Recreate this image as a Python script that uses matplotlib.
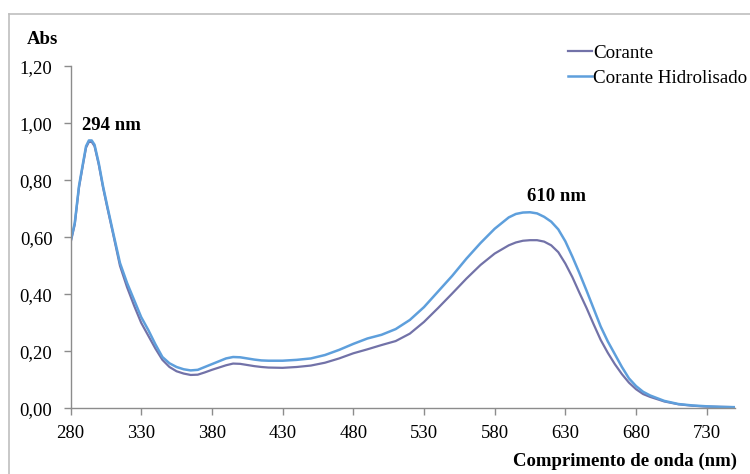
import matplotlib
matplotlib.use("Agg")
import matplotlib.pyplot as plt
from matplotlib.lines import Line2D

wavelength = [280, 283, 286, 289, 291, 293, 295, 297, 300, 303, 306, 310, 315, 320, 325, 330,
              335, 340, 345, 350, 355, 360, 365, 370, 375, 380, 385, 390, 395, 400, 405,
              410, 415, 420, 430, 440, 450, 460, 470, 480, 490, 500, 510, 520, 530, 540,
              550, 560, 570, 580, 590, 595, 600, 605, 610, 615, 620, 625, 630, 635, 640,
              645, 650, 655, 660, 665, 670, 675, 680, 685, 690, 700, 710, 720, 730, 740, 750]

corante = [0.58, 0.645, 0.775, 0.86, 0.915, 0.935, 0.935, 0.92, 0.855, 0.775, 0.705, 0.615, 0.5,
           0.425, 0.36, 0.30, 0.255, 0.21, 0.17, 0.145, 0.13, 0.122, 0.117, 0.118, 0.126,
           0.135, 0.143, 0.151, 0.157, 0.156, 0.152, 0.148, 0.145, 0.143, 0.142, 0.145,
           0.15, 0.16, 0.175, 0.193, 0.207, 0.222, 0.236, 0.262, 0.303, 0.352, 0.403, 0.455,
           0.503, 0.543, 0.572, 0.582, 0.588, 0.59, 0.59, 0.585, 0.572, 0.548, 0.508, 0.46,
           0.405, 0.352, 0.295, 0.24, 0.195, 0.155, 0.12, 0.09, 0.067, 0.05, 0.04, 0.024,
           0.014, 0.009, 0.006, 0.005, 0.004]

hidrolisado = [0.585, 0.65, 0.78, 0.865, 0.92, 0.94, 0.94, 0.925, 0.86, 0.78, 0.71, 0.62, 0.51,
               0.44, 0.38, 0.32, 0.275, 0.225, 0.18, 0.158, 0.145, 0.137, 0.133, 0.135,
               0.145, 0.155, 0.165, 0.175, 0.18, 0.179, 0.175, 0.171, 0.168, 0.167, 0.167,
               0.17, 0.175, 0.187, 0.205, 0.226, 0.245, 0.258, 0.278, 0.31, 0.355, 0.41,
               0.465, 0.525, 0.58, 0.63, 0.67, 0.682, 0.687, 0.688, 0.684, 0.672, 0.655,
               0.628, 0.586, 0.532, 0.474, 0.413, 0.35, 0.287, 0.235, 0.19, 0.145, 0.105,
               0.078, 0.058, 0.045, 0.026, 0.015, 0.01, 0.007, 0.005, 0.004]

series_names = ["Corante", "Corante Hidrolisado"]
x_ticks = [280, 330, 380, 430, 480, 530, 580, 630, 680, 730]
y_ticks = [0.0, 0.2, 0.4, 0.6, 0.8, 1.0, 1.2]
peak_labels = ["294 nm", "610 nm"]

plt.rcParams['font.family'] = ['Liberation Serif', 'DejaVu Serif']

fig = plt.figure(figsize=(7.5, 4.74), dpi=100)
ax = fig.add_axes([0.094, 0.1386, 0.886, 0.7214])

c_purple = "#7272A8"
c_blue = "#5E9FDC"
ax.plot(wavelength, corante, color=c_purple, lw=1.6, label=series_names[0])
ax.plot(wavelength, hidrolisado, color=c_blue, lw=1.8, label=series_names[1])

ax.set_xlim(280, 750)
ax.set_ylim(0, 1.2)
ax.set_xticks(x_ticks)
ax.set_yticks(y_ticks)
ax.set_yticklabels([f"{v:.2f}".replace(".", ",") for v in y_ticks])
for s in ["top", "right"]:
    ax.spines[s].set_visible(False)
for s in ["left", "bottom"]:
    ax.spines[s].set_color("#8C8C8C")
    ax.spines[s].set_linewidth(1.0)
ax.tick_params(axis="both", colors="#8C8C8C", labelcolor="black", labelsize=13.5,
               length=5, width=1.0, direction="out")
ax.tick_params(axis="x", pad=7)
ax.tick_params(axis="y", pad=8)

# peak annotations
ax.text(288, 0.994, peak_labels[0], fontsize=13.5, fontweight="bold",
        ha="left", va="center")
ax.text(624, 0.745, peak_labels[1], fontsize=13.5, fontweight="bold",
        ha="center", va="center")

fig.text(27 / 750, 1 - 40 / 474, "Abs", fontsize=13.5, fontweight="bold", ha="left", va="center")
fig.text(737 / 750, 1 - 461 / 474, "Comprimento de onda (nm)", fontsize=13.5,
         fontweight="bold", ha="right", va="center")

leg = ax.legend(loc="upper left", bbox_to_anchor=(560 / 750, 1 - 37 / 474),
                bbox_transform=fig.transFigure, frameon=False, fontsize=13.7,
                handlelength=1.3, handletextpad=0.05, labelspacing=0.4, borderaxespad=0)

# outer chart border (top and left visible)
fig.add_artist(Line2D([9 / 750, 1.0], [1 - 14 / 474, 1 - 14 / 474], transform=fig.transFigure,
                      color="#BFBFBF", lw=1.2))
fig.add_artist(Line2D([9 / 750, 9 / 750], [0.0, 1 - 14 / 474], transform=fig.transFigure,
                      color="#BFBFBF", lw=1.2))

fig.savefig("out.png", dpi=100)
